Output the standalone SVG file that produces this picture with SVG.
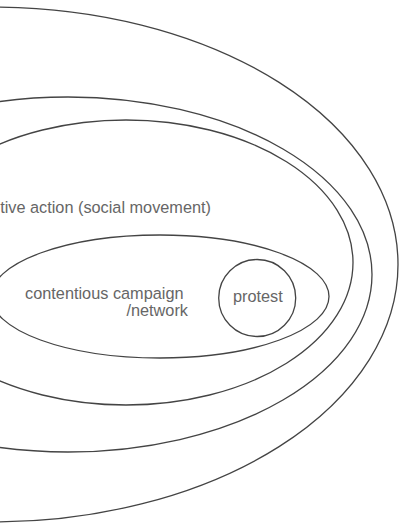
<svg xmlns="http://www.w3.org/2000/svg" width="402" height="523" viewBox="0 0 402 523">
  <style>
    .ring { fill: none; stroke: #444; stroke-width: 1.3; }
    .label { font-family: "Liberation Sans", Arial, sans-serif; font-size: 16.3px; fill: #666; }
  </style>
  <rect width="402" height="523" fill="#fff"/>
  <!-- nested scopes, outermost first -->
  <g id="outer-scope">
    <ellipse class="ring" cx="-8" cy="264.5" rx="406" ry="257.5"/>
  </g>
  <g id="middle-scope">
    <ellipse class="ring" cx="68" cy="274.5" rx="304" ry="177.5"/>
  </g>
  <g id="collective-action">
    <ellipse class="ring" cx="126" cy="262.5" rx="227" ry="142.5"/>
    <text class="label" x="211" y="213.3" text-anchor="end">tive action (social movement)</text>
  </g>
  <g id="contentious-campaign">
    <ellipse class="ring" cx="160" cy="296.5" rx="169" ry="61.5"/>
    <text class="label" x="183.5" y="299.3" text-anchor="end">contentious campaign</text>
    <text class="label" x="188" y="315.5" text-anchor="end">/network</text>
  </g>
  <g id="protest">
    <circle class="ring" cx="257.2" cy="298" r="38.5"/>
    <text class="label" x="257.8" y="301.7" text-anchor="middle">protest</text>
  </g>
  <g id="connectors"/>
</svg>
